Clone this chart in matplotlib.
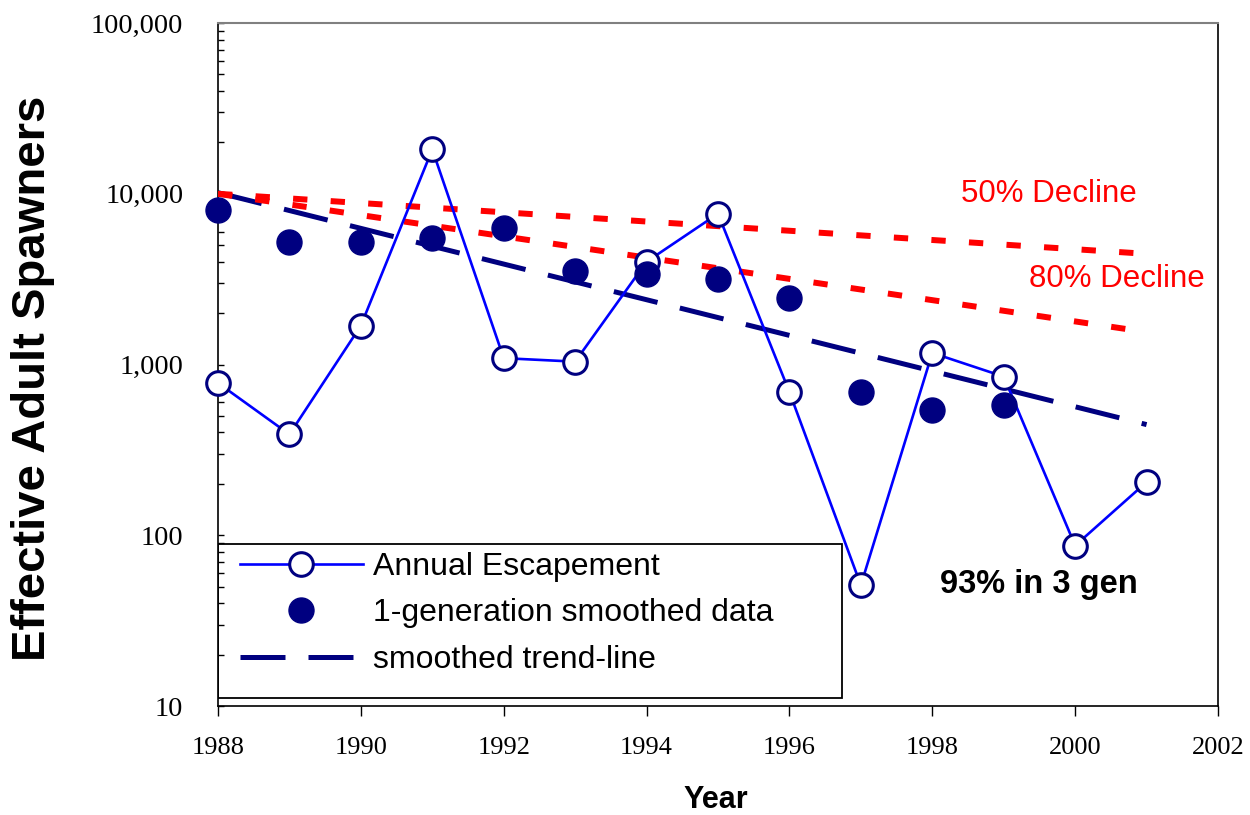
import matplotlib
matplotlib.use("Agg")
import matplotlib.pyplot as plt
from matplotlib.ticker import FuncFormatter, LogLocator, NullFormatter
from matplotlib.patches import Rectangle

# data
years = [1988, 1989, 1990, 1991, 1992, 1993, 1994, 1995, 1996, 1997, 1998, 1999, 2000, 2001]
annual_escapement = [780, 390, 1690, 18200, 1090, 1040, 4000, 7650, 690, 51, 1170, 850, 87, 205]

smooth_years = [1988, 1989, 1990, 1991, 1992, 1993, 1994, 1995, 1996, 1997, 1998, 1999]
smoothed = [8050, 5250, 5250, 5500, 6300, 3550, 3400, 3150, 2450, 690, 540, 580]

trend_years = [1988, 2001]
trend_vals = [10150, 445]

decline50_years = [1988, 2001]
decline50_vals = [10000, 4450]
decline80_years = [1988, 2001]
decline80_vals = [10000, 1550]

xticks = list(range(1988, 2003, 2))
yticks = [10, 100, 1000, 10000, 100000]

SANS = "Liberation Sans"
SERIF = "Liberation Serif"
NAVY = "#000080"

fig = plt.figure(figsize=(12.5, 8.15), dpi=100)
ax = fig.add_axes([0.1744, 0.1337, 0.8, 0.838])

# threshold lines
ax.plot(decline50_years, decline50_vals, color="red", lw=4.3, dashes=(2.4, 3.9),
        dash_capstyle="butt", zorder=3)
ax.plot(decline80_years, decline80_vals, color="red", lw=4.3, dashes=(2.4, 3.9),
        dash_capstyle="butt", zorder=3)

# trend
trend_line, = ax.plot(trend_years, trend_vals, color=NAVY, lw=3.6, dashes=(9.0, 4.6),
                      dash_capstyle="butt", zorder=2, label="smoothed trend-line")

# annual values
annual_line, = ax.plot(years, annual_escapement, color="blue", lw=1.9, marker="o",
                       markersize=17, markerfacecolor="white", markeredgecolor=NAVY,
                       markeredgewidth=2.2, zorder=4, clip_on=False,
                       label="Annual Escapement")

# 1-generation smoothing
smooth_pts, = ax.plot(smooth_years, smoothed, linestyle="none", marker="o",
                      markersize=18, color=NAVY, zorder=5, clip_on=False,
                      label="1-generation smoothed data")

ax.set_yscale("log")
ax.set_ylim(10, 100000)
ax.set_xlim(1988, 2002)
ax.set_xticks(xticks)
ax.set_yticks(yticks)
ax.yaxis.set_major_formatter(FuncFormatter(lambda v, p: "{:,.0f}".format(v)))
ax.yaxis.set_minor_locator(LogLocator(base=10, subs=range(2, 10)))
ax.yaxis.set_minor_formatter(NullFormatter())

ax.tick_params(axis="y", which="both", direction="in", length=4.5, width=1,
               left=True, right=False, pad=25)
ax.tick_params(axis="x", which="both", direction="out", length=7, width=1,
               bottom=True, top=False, pad=15)
for lab in ax.get_yticklabels():
    lab.set_fontfamily(SERIF)
    lab.set_fontsize(20.5)
for lab in ax.get_xticklabels():
    lab.set_fontfamily(SERIF)
    lab.set_fontsize(19)

for side in ["left", "right", "bottom"]:
    ax.spines[side].set_color("black")
    ax.spines[side].set_linewidth(1.2)
ax.spines["top"].set_color("#808080")
ax.spines["top"].set_linewidth(1.5)

# annotations
ax.text(0.831, 0.7384, "50% Decline", transform=ax.transAxes, color="red",
        fontsize=22.5, family=SANS, ha="center", va="baseline")
ax.text(0.899, 0.614, "80% Decline", transform=ax.transAxes, color="red",
        fontsize=22.5, family=SANS, ha="center", va="baseline", zorder=6)
ax.text(0.821, 0.1654, "93% in 3 gen", transform=ax.transAxes, color="black",
        fontsize=23.5, fontweight="bold", family=SANS, ha="center", va="baseline")

# legend with a hand-drawn frame
ax.add_patch(Rectangle((0.0, 0.0117), 0.624, 0.2255, transform=ax.transAxes,
                       facecolor="white", edgecolor="black", lw=1.3, zorder=1))
leg = ax.legend(handles=[annual_line, smooth_pts, trend_line], loc="upper left",
                bbox_to_anchor=(0.022, 0.226), frameon=False, borderpad=0,
                borderaxespad=0, handlelength=3.85, handletextpad=0.3,
                labelspacing=0.52, prop={"family": SANS, "size": 23})
leg.set_zorder(7)

fig.text(33 / 1250, 1 - 378 / 815, "Effective Adult Spawners", rotation=90,
         fontsize=34, fontweight="bold", family=SANS, ha="center", va="center")
fig.text(716 / 1250, 1 - 800 / 815, "Year", fontsize=22, fontweight="bold",
         family=SANS, ha="center", va="center")

fig.savefig("out.png", dpi=100)
